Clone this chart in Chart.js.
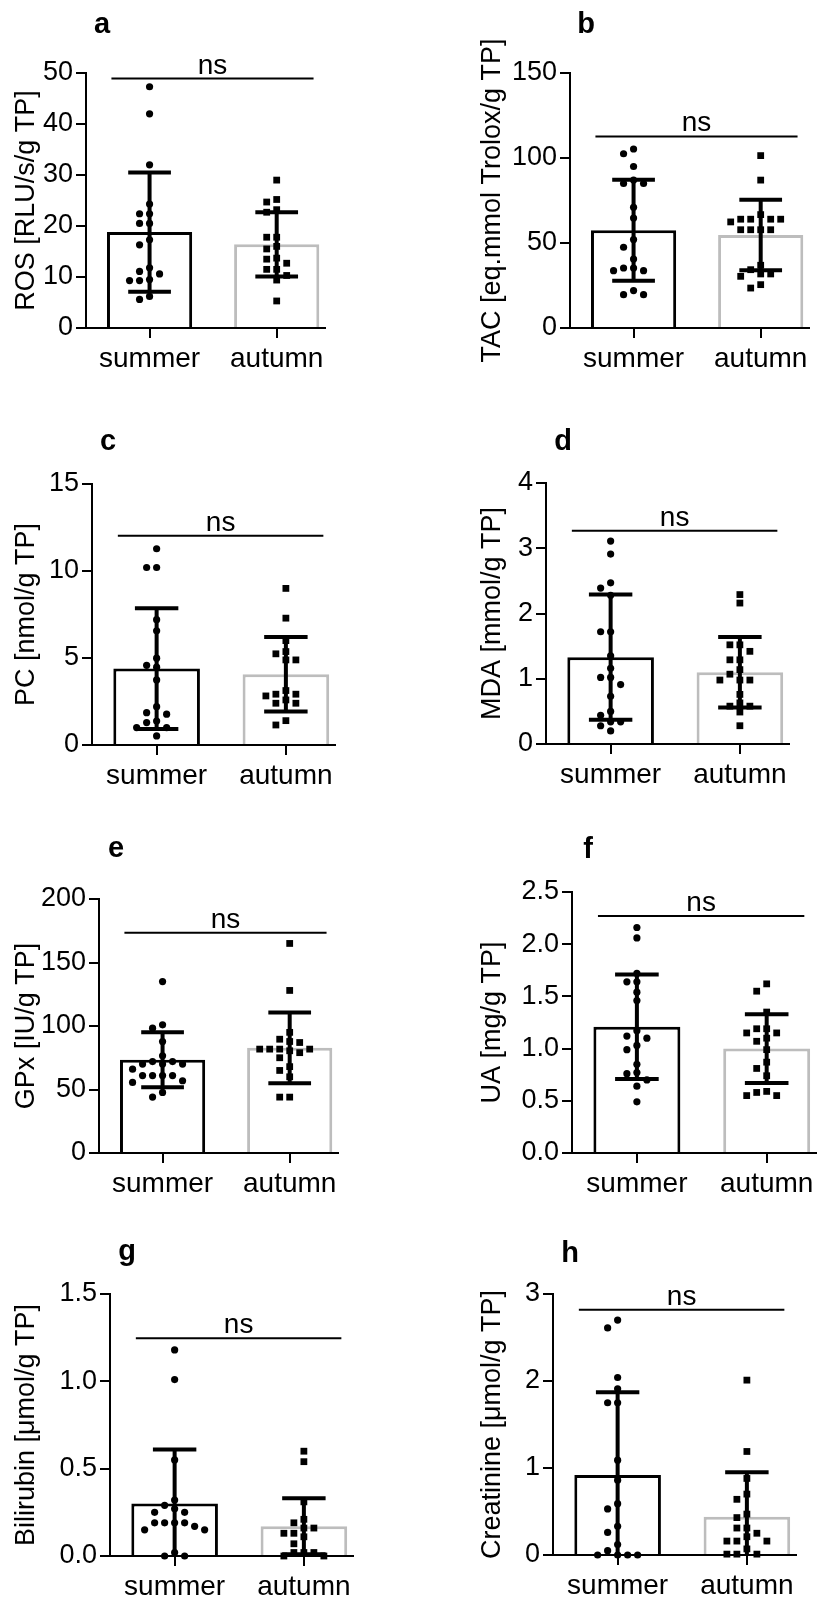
<!DOCTYPE html>
<html>
<head>
<meta charset="utf-8">
<script src="https://cdn.jsdelivr.net/npm/chart.js@4.4.1/dist/chart.umd.min.js"></script>
<style>
  body { margin: 0; background: #fff; }
  #page { position: relative; width: 833px; height: 1600px; overflow: hidden; }
  #page canvas { position: absolute; }
</style>
</head>
<body>
<div id="page"></div>
<script>
const categories = ['summer', 'autumn'];

// a - ROS
const rosSummer = [47.3, 42, 32, 24.3, 22.4, 22.4, 20.5, 20.5, 17.3, 16.3, 11.8, 11.1, 10.6, 9.5, 9.3, 9.3, 6.2, 5.6];
const rosAutumn = [29, 25.2, 24.7, 23.2, 22.7, 17.8, 17.8, 16, 15.5, 13.7, 13.5, 12.7, 11.5, 11.5, 10.3, 9.4, 5.3];
const rosMean = [18.8, 16.4];
const rosSd = [11.7, 6.3];
const rosTicks = ['0', '10', '20', '30', '40', '50'];
const rosNs = 48.9;

// b - TAC
const tacSummer = [105.3, 102.5, 95, 87, 85, 85, 71, 64.7, 52, 47.5, 40.6, 35.3, 35.3, 33.7, 33.7, 22, 19.6, 19.6];
const tacAutumn = [101.4, 87, 66.7, 64, 64, 64, 64, 62.4, 57.8, 57.8, 57.8, 57.8, 36.9, 34.3, 31.8, 31.8, 30.4, 25.5, 23.5];
const tacMean = [57.5, 54.7];
const tacSd = [29.7, 20.8];
const tacTicks = ['0', '50', '100', '150'];
const tacNs = 112.7;

// c - PC
const pcSummer = [11.28, 10.2, 10.2, 7.2, 6.56, 4.99, 4.58, 4.47, 3.74, 2.2, 1.86, 1.77, 1.38, 1.29, 1.0, 1.0, 0.52];
const pcAutumn = [9.0, 7.29, 6.0, 5.37, 5.24, 4.89, 4.89, 3.13, 2.92, 2.92, 2.82, 2.59, 2.4, 2.4, 1.4, 1.15];
const pcMean = [4.39, 4.07];
const pcSd = [3.47, 2.14];
const pcTicks = ['0', '5', '10', '15'];
const pcNs = 12.03;

// d - MDA
const mdaSummer = [3.11, 2.91, 2.47, 2.39, 2.28, 1.72, 1.72, 1.35, 1.16, 1.02, 1.02, 0.91, 0.73, 0.5, 0.44, 0.34, 0.34, 0.28, 0.2];
const mdaAutumn = [2.29, 2.16, 1.52, 1.52, 1.42, 1.29, 1.29, 1.14, 1.07, 0.98, 0.98, 0.98, 0.76, 0.63, 0.58, 0.58, 0.49, 0.28];
const mdaMean = [1.33, 1.10];
const mdaSd = [0.96, 0.54];
const mdaTicks = ['0', '1', '2', '3', '4'];
const mdaNs = 3.27;

// e - GPx
const gpxSummer = [135, 100.9, 98.3, 87.8, 76.5, 72, 72, 70, 70, 70, 66, 61, 61, 61, 61, 56.9, 55.6, 47.7, 44];
const gpxAutumn = [165, 128, 95, 89.6, 87.8, 87, 81.8, 81.8, 81.8, 81.8, 80.5, 79, 75, 68, 65, 60, 44, 44];
const gpxMean = [73.4, 82.8];
const gpxSd = [21.6, 27.8];
const gpxTicks = ['0', '50', '100', '150', '200'];
const gpxNs = 173.5;

// f - UA
const uaSummer = [2.16, 2.06, 1.72, 1.64, 1.64, 1.54, 1.46, 1.17, 1.12, 1.1, 1.03, 0.99, 0.85, 0.77, 0.76, 0.7, 0.64, 0.49];
const uaAutumn = [1.62, 1.55, 1.35, 1.19, 1.19, 1.15, 1.15, 1.1, 1.07, 0.99, 0.87, 0.81, 0.74, 0.59, 0.58, 0.55, 0.55];
const uaMean = [1.21, 1.0];
const uaSd = [0.5, 0.33];
const uaTicks = ['0.0', '0.5', '1.0', '1.5', '2.0', '2.5'];
const uaNs = 2.27;

// g - Bilirubin
const bilSummer = [1.18, 1.01, 0.55, 0.32, 0.29, 0.27, 0.25, 0.25, 0.19, 0.19, 0.19, 0.19, 0.17, 0.15, 0.15, 0.02, 0, 0];
const bilAutumn = [0.6, 0.54, 0.31, 0.21, 0.19, 0.16, 0.16, 0.13, 0.13, 0.11, 0.07, 0.02, 0.02, 0.02, 0, 0];
const bilMean = [0.30, 0.17];
const bilSd = [0.31, 0.16];
const bilTicks = ['0.0', '0.5', '1.0', '1.5'];
const bilNs = 1.247;

// h - Creatinine
const creSummer = [2.7, 2.61, 2.04, 1.91, 1.75, 1.75, 1.09, 0.86, 0.59, 0.53, 0.33, 0.26, 0.12, 0.05, 0, 0, 0, 0];
const creAutumn = [2.01, 1.19, 0.88, 0.7, 0.64, 0.47, 0.43, 0.31, 0.31, 0.25, 0.21, 0.16, 0.16, 0.16, 0.07, 0.01, 0.01, 0.01];
const creMean = [0.92, 0.44];
const creSd = [0.95, 0.51];
const creTicks = ['0', '1', '2', '3'];
const creNs = 2.82;

const panels = [
  { letter: 'a', title: 'ROS [RLU/s/g TP]', summer: rosSummer, autumn: rosAutumn, mean: rosMean, sd: rosSd, ticks: rosTicks, ns: rosNs },
  { letter: 'b', title: 'TAC [eq.mmol Trolox/g TP]', summer: tacSummer, autumn: tacAutumn, mean: tacMean, sd: tacSd, ticks: tacTicks, ns: tacNs },
  { letter: 'c', title: 'PC [nmol/g TP]', summer: pcSummer, autumn: pcAutumn, mean: pcMean, sd: pcSd, ticks: pcTicks, ns: pcNs },
  { letter: 'd', title: 'MDA [mmol/g TP]', summer: mdaSummer, autumn: mdaAutumn, mean: mdaMean, sd: mdaSd, ticks: mdaTicks, ns: mdaNs },
  { letter: 'e', title: 'GPx [IU/g TP]', summer: gpxSummer, autumn: gpxAutumn, mean: gpxMean, sd: gpxSd, ticks: gpxTicks, ns: gpxNs },
  { letter: 'f', title: 'UA [mg/g TP]', summer: uaSummer, autumn: uaAutumn, mean: uaMean, sd: uaSd, ticks: uaTicks, ns: uaNs },
  { letter: 'g', title: 'Bilirubin [μmol/g TP]', summer: bilSummer, autumn: bilAutumn, mean: bilMean, sd: bilSd, ticks: bilTicks, ns: bilNs },
  { letter: 'h', title: 'Creatinine [μmol/g TP]', summer: creSummer, autumn: creAutumn, mean: creMean, sd: creSd, ticks: creTicks, ns: creNs }
];

// where each panel sits on the page (px)
const layout = [
  { left: 0,   axisX: 86,  top: 73,   bottom: 328,  gap: 127, lx: 102, ly: 33 },
  { left: 466, axisX: 570, top: 73,   bottom: 328,  gap: 127, lx: 586, ly: 33 },
  { left: 0,   axisX: 92,  top: 484,  bottom: 745,  gap: 129, lx: 108, ly: 450 },
  { left: 466, axisX: 546, top: 483,  bottom: 744,  gap: 129, lx: 563, ly: 450 },
  { left: 0,   axisX: 99,  top: 899,  bottom: 1153, gap: 127, lx: 116, ly: 857 },
  { left: 466, axisX: 572, top: 892,  bottom: 1153, gap: 130, lx: 588, ly: 858 },
  { left: 0,   axisX: 110, top: 1294, bottom: 1556, gap: 129, lx: 127, ly: 1260 },
  { left: 466, axisX: 553, top: 1294, bottom: 1555, gap: 129, lx: 570, ly: 1262 }
];

const X_MIN = -0.5, X_MAX = 1.38;
const PAD_TOP = 75, X_AXIS_H = 52, PAD_RIGHT = 10;
const FONT = "'Liberation Sans', Arial, Helvetica, sans-serif";

Chart.defaults.font.family = FONT;
Chart.defaults.color = '#000';

// bracket, error bars, y title and panel letter
const decor = {
  id: 'decor',
  afterDatasetsDraw(chart, args, opts) {
    const { ctx, chartArea } = chart;
    const xs = chart.scales.x, ys = chart.scales.y;
    ctx.save();
    ctx.strokeStyle = '#000';
    ctx.fillStyle = '#000';

    // mean +/- SD
    ctx.lineWidth = 4;
    opts.mean.forEach((m, k) => {
      const x = xs.getPixelForValue(k);
      const hi = ys.getPixelForValue(m + opts.sd[k]);
      const lo = Math.min(ys.getPixelForValue(m - opts.sd[k]), chartArea.bottom);
      const cap = xs.getPixelForValue(k + 0.168) - x;
      ctx.beginPath();
      ctx.moveTo(x, hi); ctx.lineTo(x, lo);
      ctx.moveTo(x - cap, hi); ctx.lineTo(x + cap, hi);
      if (m - opts.sd[k] > ys.min) { ctx.moveTo(x - cap, lo); ctx.lineTo(x + cap, lo); }
      ctx.stroke();
    });

    // ns bracket
    const ny = ys.getPixelForValue(opts.ns);
    ctx.lineWidth = 2;
    ctx.beginPath();
    ctx.moveTo(xs.getPixelForValue(-0.3), ny);
    ctx.lineTo(xs.getPixelForValue(1.29), ny);
    ctx.stroke();
    ctx.font = '28px ' + FONT;
    ctx.textAlign = 'center';
    ctx.textBaseline = 'alphabetic';
    ctx.fillText('ns', xs.getPixelForValue(0.495), ny - 5);

    // y title
    ctx.save();
    ctx.translate(27, (chartArea.top + chartArea.bottom) / 2);
    ctx.rotate(-Math.PI / 2);
    ctx.font = '27px ' + FONT;
    ctx.textBaseline = 'middle';
    ctx.fillText(opts.title, 0, 0);
    ctx.restore();

    // panel letter
    ctx.font = 'bold 29px ' + FONT;
    ctx.textAlign = 'center';
    ctx.fillText(opts.letter, opts.lx, opts.ly);
    ctx.restore();
  }
};

// simple beeswarm spread in pixel space
const DOT_STEP = 10, DOT_GAP = 8;
function swarm(values, center, chart) {
  const xs = chart.scales.x, ys = chart.scales.y;
  const unit = xs.getPixelForValue(1) - xs.getPixelForValue(0);
  const placed = [];
  return values.slice().sort((a, b) => b - a).map(v => {
    const py = ys.getPixelForValue(v);
    let k = 0, off = 0;
    for (;;) {
      off = (k % 2 ? -1 : 1) * Math.ceil(k / 2) * DOT_STEP;
      if (placed.every(q => Math.hypot(q.x - off, q.y - py) >= DOT_GAP)) break;
      k++;
    }
    placed.push({ x: off, y: py });
    return { x: center + off / unit, y: v };
  });
}

const page = document.getElementById('page');

panels.forEach((p, i) => {
  const L = layout[i];
  const yW = L.axisX - L.left;
  const canvas = document.createElement('canvas');
  canvas.width = Math.round(yW + (X_MAX - X_MIN) * L.gap + PAD_RIGHT);
  canvas.height = Math.round(PAD_TOP + (L.bottom - L.top) + X_AXIS_H);
  const canvasTop = L.top - PAD_TOP;
  canvas.style.left = L.left + 'px';
  canvas.style.top = canvasTop + 'px';
  page.appendChild(canvas);

  const tickVals = p.ticks.map(Number);

  const chart = new Chart(canvas, {
    type: 'bar',
    data: {
      datasets: [
        {
          type: 'bar',
          data: categories.map((c, k) => ({ x: k, y: p.mean[k] })),
          backgroundColor: '#fff',
          borderColor: ['#000', '#bdbdbd'],
          borderWidth: 3,
          barPercentage: 0.67,
          categoryPercentage: 1,
          order: 3
        },
        {
          type: 'scatter',
          data: p.summer.map(v => ({ x: 0, y: v })),
          pointStyle: 'circle',
          pointRadius: 3.6,
          pointBackgroundColor: '#000',
          pointBorderWidth: 0,
          clip: false,
          order: 1
        },
        {
          type: 'scatter',
          data: p.autumn.map(v => ({ x: 1, y: v })),
          pointStyle: 'rect',
          pointRadius: 4.8,
          pointBackgroundColor: '#000',
          pointBorderWidth: 0,
          clip: false,
          order: 2
        }
      ]
    },
    options: {
      responsive: false,
      animation: false,
      devicePixelRatio: 1,
      events: [],
      layout: { padding: { top: PAD_TOP, right: PAD_RIGHT, left: 0, bottom: 0 } },
      scales: {
        x: {
          type: 'linear',
          min: X_MIN,
          max: X_MAX,
          offset: false,
          z: 1,
          afterBuildTicks: s => { s.ticks = categories.map((c, k) => ({ value: k })); },
          afterFit: s => { s.height = X_AXIS_H; },
          ticks: {
            callback: (v, idx) => categories[idx],
            font: { size: 28 },
            padding: 4,
            maxRotation: 0,
            autoSkip: false
          },
          grid: { offset: false, drawOnChartArea: false, drawTicks: true, tickLength: 10, color: '#000', lineWidth: 2 },
          border: { color: '#000', width: 2 }
        },
        y: {
          type: 'linear',
          min: tickVals[0],
          max: tickVals[tickVals.length - 1],
          z: 1,
          afterBuildTicks: s => { s.ticks = tickVals.map(v => ({ value: v })); },
          afterFit: s => { s.width = yW; },
          ticks: {
            callback: (v, idx) => p.ticks[idx],
            font: { size: 27 },
            padding: 3
          },
          grid: { drawOnChartArea: false, drawTicks: true, tickLength: 10, color: '#000', lineWidth: 2 },
          border: { color: '#000', width: 2 }
        }
      },
      plugins: {
        legend: { display: false },
        tooltip: { enabled: false },
        decor: {
          mean: p.mean, sd: p.sd, ns: p.ns, title: p.title, letter: p.letter,
          lx: L.lx - L.left, ly: L.ly - canvasTop
        }
      }
    },
    plugins: [decor]
  });

  chart.data.datasets[1].data = swarm(p.summer, 0, chart);
  chart.data.datasets[2].data = swarm(p.autumn, 1, chart);
  chart.update('none');
});
</script>
</body>
</html>
